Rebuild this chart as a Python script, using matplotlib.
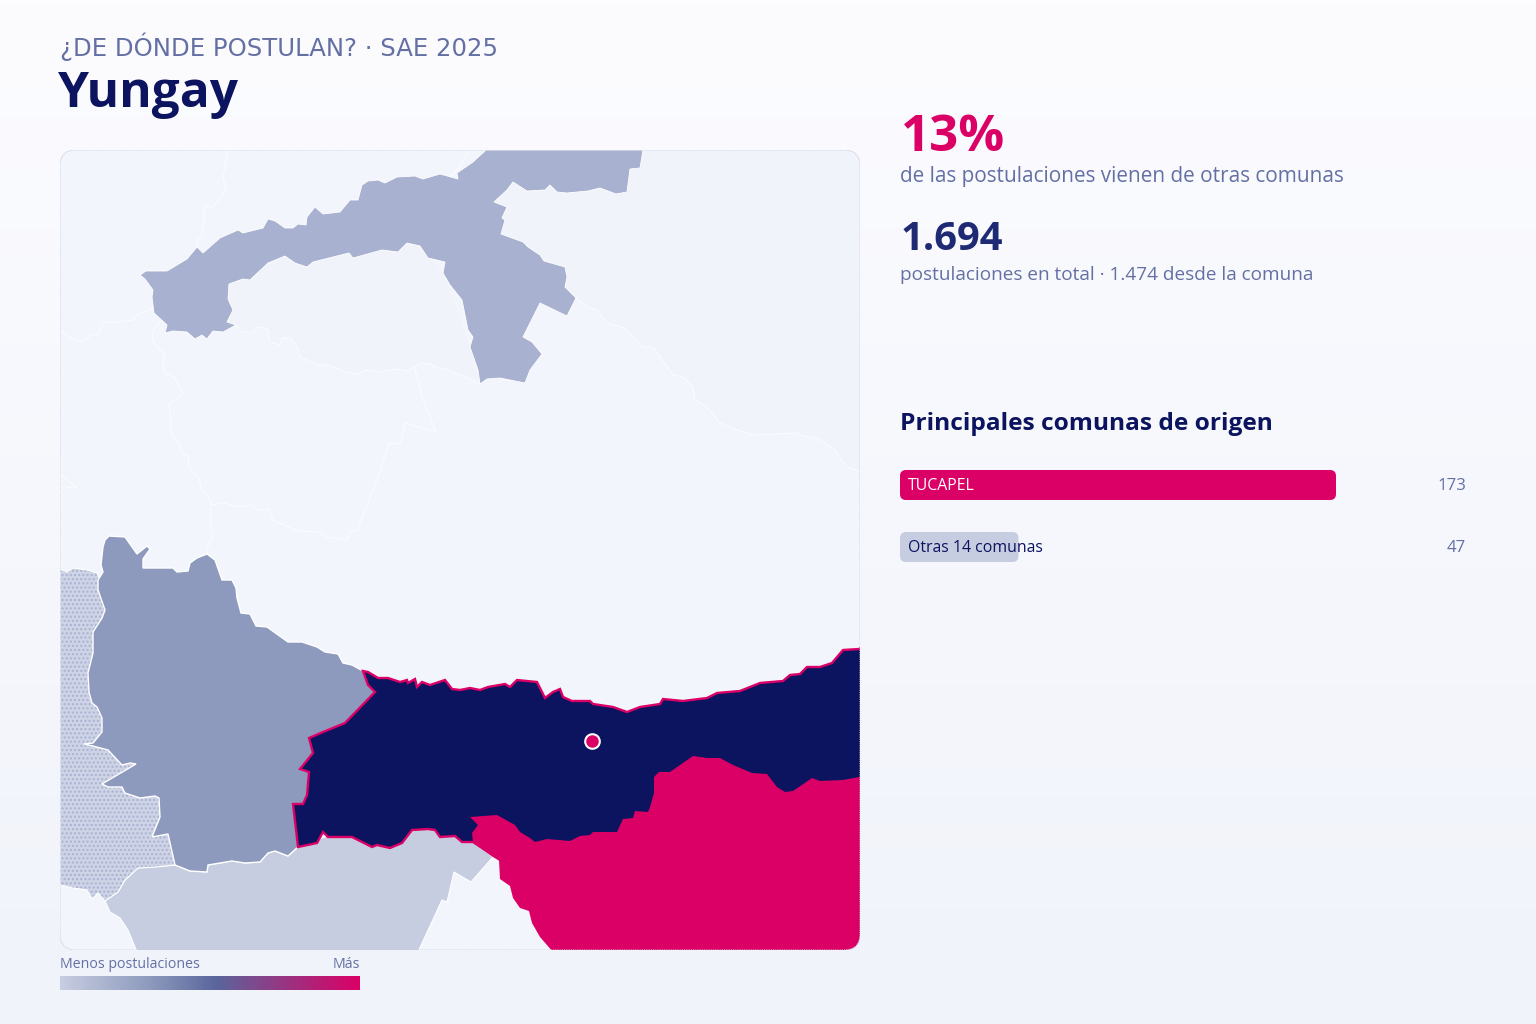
import numpy as np
import matplotlib
matplotlib.use("Agg")
import matplotlib.pyplot as plt
from matplotlib.patches import Polygon, FancyBboxPatch
from matplotlib.colors import LinearSegmentedColormap

# ---------- content ----------
kicker = "¿DE DÓNDE POSTULAN? · SAE 2025"
title = "Yungay"
pct_text = "13%"
pct_label = "de las postulaciones vienen de otras comunas"
total_text = "1.694"
total_label = "postulaciones en total · 1.474 desde la comuna"
bars_title = "Principales comunas de origen"
origin_names = ["TUCAPEL", "Otras 14 comunas"]
origin_values = [173, 47]
legend_low = "Menos postulaciones"
legend_high = "Más"

NAVY = "#0C1460"
PINK = "#DB0066"
MUTED = "#6470A4"
LIGHT = "#C7CDE1"
MID = "#8D9ABD"
SOFT = "#A8B1CF"
PALE = "#F2F5FB"
PALE2 = "#F0F3FA"

# ---------- map geometry ----------
upper_shape = [(140,275),(146,271),(167,271),(187,259),(197,247),(203,253),(220,238),(238,230),(243,233),
 (263,228),(268,219),(275,221),(285,228),(293,228),(298,224),(306,225),(307,217),(315,207),(323,214),(340,212),
 (350,200),(358,200),(362,185),(368,181),(378,180),(385,183),(397,177),(415,176),(423,179),(440,174),(458,179),
 (457,173),(473,162),(486,150),(643,150),(640,168),(630,169),(627,192),(616,194),(600,188),(588,191),(567,193),
 (557,192),(550,185),(545,190),(527,191),(513,182),(507,190),(494,202),(507,207),(502,218),(505,220),(501,234),
 (523,242),(528,247),(540,255),(544,261),(565,267),(567,277),(565,287),(576,298),(567,316),(540,303),(523,337),
 (532,342),(542,354),(530,370),(525,383),(500,378),(487,379),(480,384),(478,370),(470,347),(473,337),(468,330),
 (462,300),(450,285),(443,273),(445,262),(428,258),(420,246),(407,243),(398,252),(382,250),(353,258),(349,253),
 (313,262),(307,267),(295,263),(285,256),(268,263),(250,280),(243,279),(229,284),(228,299),(233,310),(227,322),
 (236,325),(223,332),(213,331),(207,339),(202,335),(195,339),(187,332),(173,331),(165,333),(167,325),(154,313),
 (152,297),(153,290),(145,279)]

line_a = [(228,150),(223,177),(226,190),(213,208),(205,205),(202,237),(197,238),(198,247)]
line_b = [(152,308),(137,315),(133,320),(118,322),(103,322),(99,334),(92,335),(82,342),(72,339),(63,333),(60,332)]
line_c = [(160,322),(152,332),(153,342),(165,355),(163,367),(165,373),(175,378),(183,393),(169,405),(172,437),
 (178,442),(183,455),(188,455),(189,468),(199,478),(201,488),(209,497),(211,505),(211,530),(213,537),(207,548),(207,558)]
line_d = [(236,325),(242,332),(253,332),(258,327),(268,329),(270,342),(280,345),(282,338),(290,338),(298,348),
 (300,357),(317,364),(332,366),(345,372),(358,374),(365,370),(378,372),(397,369),(408,371),(420,363),(432,364),
 (435,368),(443,368),(468,378),(480,384)]
line_e = [(415,369),(422,397),(436,432),(405,423),(400,444),(389,443),(378,477),(368,503),(357,530),(350,532),
 (347,540),(327,537),(317,532),(298,531),(273,520),(268,509),(258,510),(253,505),(237,507),(225,503),(211,505)]
line_f = [(60,475),(78,488),(63,487),(60,493)]
line_g = [(576,298),(587,307),(597,310),(607,323),(625,328),(642,347),(653,347),(673,375),(683,377),(693,387),
 (695,400),(707,407),(720,423),(737,430),(755,435),(797,433),(803,436),(817,438),(833,448),(847,467),(860,471)]
line_h = [(468,153),(457,170),(450,177)]

dither_shape = [(60,569),(67,572),(73,568),(87,570),(97,573),(120,620),(140,700),(170,790),(175,865),(157,867),
 (138,868),(125,880),(118,892),(105,901),(98,893),(92,899),(87,890),(73,888),(60,885)]

mid_shape = [(105,540),(109,536),(125,537),(137,554),(147,546),(150,549),(143,559),(143,568),(173,568),(177,572),
 (188,571),(190,563),(197,558),(207,554),(215,560),(222,580),(232,580),(236,588),(237,598),(241,613),(250,614),
 (256,626),(267,627),(288,642),(302,642),(317,647),(325,652),(338,654),(343,663),(352,665),(363,671),(368,685),
 (375,692),(345,723),(323,732),(309,738),(313,753),(300,769),(309,772),(307,795),(303,804),(293,804),(298,847),
 (288,856),(275,851),(268,853),(260,862),(245,863),(232,861),(208,865),(207,872),(190,871),(175,865),(168,834),
 (152,837),(160,817),(159,798),(155,796),(140,798),(125,793),(122,787),(108,787),(102,784),(136,764),(130,763),
 (122,765),(108,750),(93,746),(84,744),(93,743),(102,732),(102,718),(97,707),(92,703),(89,692),(88,673),(93,653),
 (93,632),(102,618),(105,610),(98,590),(98,580),(103,572),(101,565),(103,547)]

light_shape = [(105,901),(118,892),(125,880),(138,868),(175,865),(190,871),(207,872),(208,865),(232,861),(245,863),
 (260,862),(268,853),(275,851),(288,856),(298,847),(330,835),(420,825),(450,832),(475,840),(493,857),(471,882),
 (454,872),(447,902),(442,900),(418,952),(137,952),(128,930),(120,918),(110,912)]

navy_shape = [(363,671),(368,672),(378,678),(388,678),(400,682),(407,680),(408,683),(415,679),(417,687),(422,682),
 (430,685),(445,680),(452,689),(460,690),(470,688),(480,690),(488,687),(505,684),(510,687),(517,680),(537,682),
 (545,698),(553,692),(560,689),(563,697),(572,701),(590,701),(593,704),(613,707),(627,712),(640,707),(660,704),
 (663,699),(683,701),(707,698),(717,693),(740,691),(760,683),(783,681),(790,675),(800,674),(807,667),(820,667),
 (832,663),(843,650),(859,649),(866,645),(866,800),(500,860),(473,842),(462,842),(455,836),(440,837),(435,830),
 (428,829),(412,830),(402,843),(390,848),(377,845),(372,847),(352,837),(328,837),(323,832),(317,843),(298,847),
 (293,804),(303,804),(307,795),(309,772),(300,769),(313,753),(309,738),(323,732),(345,723),(375,692),(368,685)]

pink_shape = [(866,776),(859,777),(843,780),(820,781),(812,778),(793,791),(785,792),(777,787),(767,774),(752,773),
 (733,765),(720,758),(707,758),(693,756),(680,765),(670,772),(659,772),(654,777),(654,793),(650,807),(648,812),
 (635,811),(633,818),(623,819),(617,832),(600,832),(593,832),(590,835),(580,836),(570,841),(547,839),(535,842),
 (530,838),(520,832),(515,825),(497,815),(470,817),(478,825),(472,833),(473,842),(493,857),(499,860),(500,879),
 (510,886),(513,898),(520,908),(529,911),(532,923),(540,937),(553,952),(866,952)]

inner_shape = line_d[:-1] + [(480,384),(470,347),(443,273),(420,246),(300,250),(228,284),(228,325)]
upper_right_shape = [(480,150),(866,150),(866,472)] + line_g[::-1] + [(480,298)]
seat_point = (592, 741)

ramp_colors = [LIGHT, MID, "#5A669C", PINK]
ramp_stops = [0.0, 0.3, 0.52, 1.0]
bg_top, bg_bottom = "#FCFCFF", "#F0F3FA"

# ---------- figure ----------
W, H = 1536, 1024
fig = plt.figure(figsize=(W/100, H/100), dpi=100)
plt.rcParams["font.family"] = ["Open Sans", "DejaVu Sans"]
PX = 0.72

def axes_px(x0, y0, x1, y1, **kw):
    return fig.add_axes([x0/W, 1-y1/H, (x1-x0)/W, (y1-y0)/H], **kw)

bg = axes_px(0, 0, W, H)
bg.axis("off")
bg_map = LinearSegmentedColormap.from_list("bg", [bg_top, bg_bottom])
bg.imshow(np.linspace(0, 1, 256).reshape(-1, 1), cmap=bg_map, aspect="auto")

# map
ax = axes_px(60, 150, 860, 950)
ax.set_xlim(60, 860)
ax.set_ylim(950, 150)
ax.axis("off")
card = FancyBboxPatch((60, 150), 800, 800, boxstyle="round,pad=0,rounding_size=16",
                      fc=PALE, ec="none", zorder=0)
ax.add_patch(card)

def poly(pts, fc, ec="white", lw=0.8, z=1, **kw):
    p = Polygon(pts, closed=True, fc=fc, ec=ec, lw=lw, zorder=z, **kw)
    ax.add_patch(p)
    p.set_clip_path(card)
    return p

def line(pts, color="#FBFCFE", lw=0.75, z=1.5):
    xs, ys = zip(*pts)
    l, = ax.plot(xs, ys, color=color, lw=lw, zorder=z, solid_joinstyle="round")
    l.set_clip_path(card)

poly(upper_right_shape, PALE2, ec="none", lw=0)
poly(inner_shape, PALE2, ec="none", lw=0)
for ln in (line_a, line_b, line_c, line_d, line_e, line_f, line_g, line_h):
    line(ln)
poly(upper_shape, SOFT, lw=0.6, z=2)
poly(light_shape, LIGHT, z=2)
poly(dither_shape, "#CED4E6", ec="#A8B2D2", lw=0, z=2, hatch="....")
poly(dither_shape, "none", z=2.1)
poly(mid_shape, MID, lw=1.0, z=3)
poly(navy_shape, NAVY, ec=PINK, lw=1.7, z=4)
poly(pink_shape, PINK, ec="none", lw=0, z=5)
ax.plot(*seat_point, "o", ms=10.5, mfc=PINK, mec="white", mew=1.5, zorder=6)
ax.add_patch(FancyBboxPatch((60, 150), 800, 800, boxstyle="round,pad=0,rounding_size=16",
                            fc="none", ec="#C6CCE0", lw=0.8, ls=(0, (1, 1)), zorder=7))

# colour legend
leg = axes_px(60, 976, 360, 990)
leg.axis("off")
ramp = LinearSegmentedColormap.from_list("ramp", list(zip(ramp_stops, ramp_colors)))
leg.imshow(np.linspace(0, 1, 300).reshape(1, -1), cmap=ramp, aspect="auto")

# bars
bar_ax = axes_px(900, 460, 1466, 572)
bar_ax.set_xlim(0, 173 * 566 / 436)
bar_ax.set_ylim(112, 0)
bar_ax.axis("off")
px_per_unit = 436 / 173
tops = [10, 72]
fills = [PINK, LIGHT]
label_colors = ["white", NAVY]
for name, val, top, fc, tc in zip(origin_names, origin_values, tops, fills, label_colors):
    bar_ax.add_patch(FancyBboxPatch((0, top), val, 30,
                     boxstyle=f"round,pad=0,rounding_size={6/px_per_unit}",
                     mutation_aspect=px_per_unit, fc=fc, ec="none"))
    bar_ax.text(8/px_per_unit, top+16.5, name, color=tc, fontsize=15.9*PX, va="center", ha="left")
    bar_ax.text(566/px_per_unit, top+16.5, str(val), color=MUTED, fontsize=16.7*PX, va="center", ha="right")

# text
def T(x, y, s, size, color, weight="normal", ha="left", family=None):
    kw = {"family": family} if family else {}
    fig.text(x/W, 1-y/H, s, fontsize=size*PX, color=color, fontweight=weight, ha=ha, va="baseline", **kw)

T(60, 56, kicker, 24.4, MUTED, family=["DejaVu Sans"])
T(58, 107, title, 49.5, NAVY, "bold")
T(901, 151, pct_text, 51, PINK, "bold")
T(900, 182, pct_label, 20.75, MUTED)
T(901, 250, total_text, 40, "#1E2A74", "bold")
T(900, 280, total_label, 18.97, MUTED)
T(900, 430, bars_title, 24.5, NAVY, "bold")
T(60, 968, legend_low, 14.1, MUTED)
T(360, 968, legend_high, 14.1, MUTED, ha="right")

fig.savefig("out.png", dpi=100)
